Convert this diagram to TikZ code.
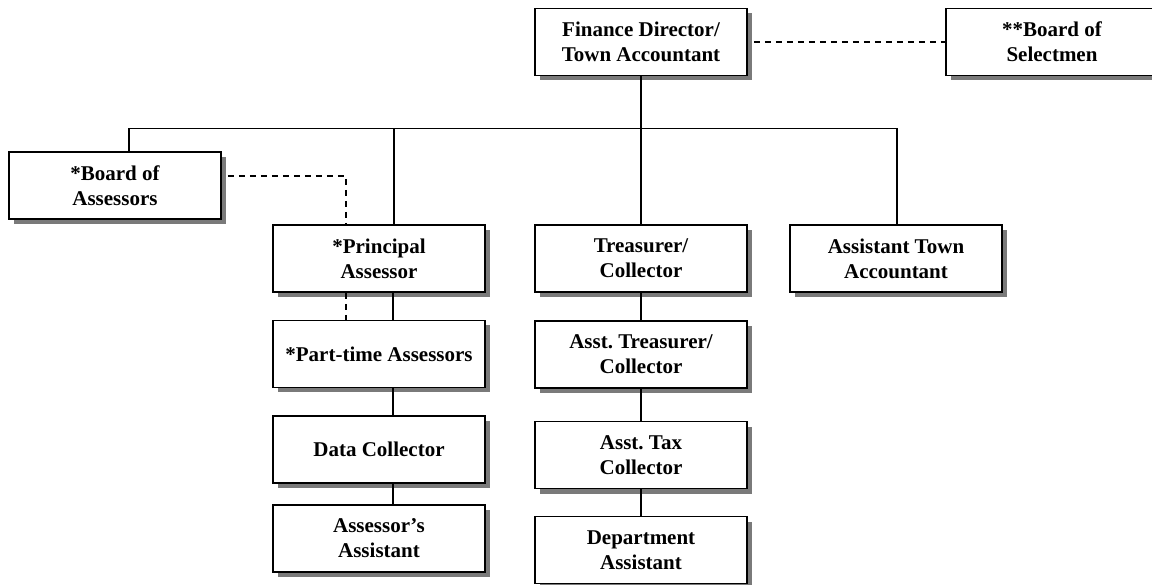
\documentclass[tikz,border=0pt]{standalone}
\usepackage{fontspec}
\setmainfont{Liberation Serif}
\usetikzlibrary{shadows}
\definecolor{shadowgray}{HTML}{7A7A7A}
\frenchspacing
\tikzset{
  orgbox/.style={draw=black, line width=1.8pt, fill=white, minimum width=212pt, minimum height=67pt,
    inner sep=0pt, align=center, font=\fontsize{21}{25}\selectfont\bfseries,
    drop shadow={shadow xshift=5pt, shadow yshift=-5pt, fill=shadowgray, opacity=1}},
  link/.style={draw=black, line width=1.6pt},
  dlink/.style={draw=black, line width=1.6pt, dash pattern=on 6.5pt off 4.5pt}
}
\begin{document}
\begin{tikzpicture}[x=1pt,y=-1pt]
\useasboundingbox (0,0) rectangle (1152,585);
% boxes
\node[orgbox] (fin) at (641,42) {Finance Director/\\Town Accountant};
\node[orgbox] (sel) at (1052,42) {**Board of\\Selectmen};
\node[orgbox] (boa) at (115,185.5) {*Board of\\Assessors};
\node[orgbox] (pa) at (379,258.5) {*Principal\\Assessor};
\node[orgbox] (tre) at (641,258.5) {Treasurer/\\Collector};
\node[orgbox] (ata) at (896,258.5) {Assistant Town\\Accountant};
\node[orgbox] (pta) at (379,354) {*Part-time Assessors};
\node[orgbox] (dc) at (379,449.5) {Data Collector};
\node[orgbox] (aa) at (379,538.5) {Assessor's\\Assistant};
\node[orgbox] (at) at (641,354.5) {Asst. Treasurer/\\Collector};
\node[orgbox] (atc) at (641,455) {Asst. Tax\\Collector};
\node[orgbox] (da) at (641,550) {Department\\Assistant};
% helper coordinates
\coordinate (bl) at (129,128.5);
\coordinate (br) at (897,128.5);
\coordinate (pd) at (394,128.5);
\coordinate (cl) at (393,0);
\coordinate (dk) at (346,176);
% solid connectors
\draw[link] (fin.south) -- (tre.north);
\draw[link] (bl |- boa.north) -- (bl) -- (br) -- (br |- ata.north);
\draw[link] (pd) -- (pd |- pa.north);
\draw[link] (cl |- pa.south) -- (cl |- pta.north);
\draw[link] (cl |- pta.south) -- (cl |- dc.north);
\draw[link] (cl |- dc.south) -- (cl |- aa.north);
\draw[link] (tre.south) -- (at.north);
\draw[link] (at.south) -- (atc.north);
\draw[link] (atc.south) -- (da.north);
% dashed connectors
\draw[dlink] ([xshift=6pt]fin.east) -- (sel.west);
\draw[dlink] ([xshift=6pt]boa.east |- dk) -- (dk) -- (dk |- pa.north);
\draw[dlink] (dk |- pa.south) -- (dk |- pta.north);
\end{tikzpicture}
\end{document}
